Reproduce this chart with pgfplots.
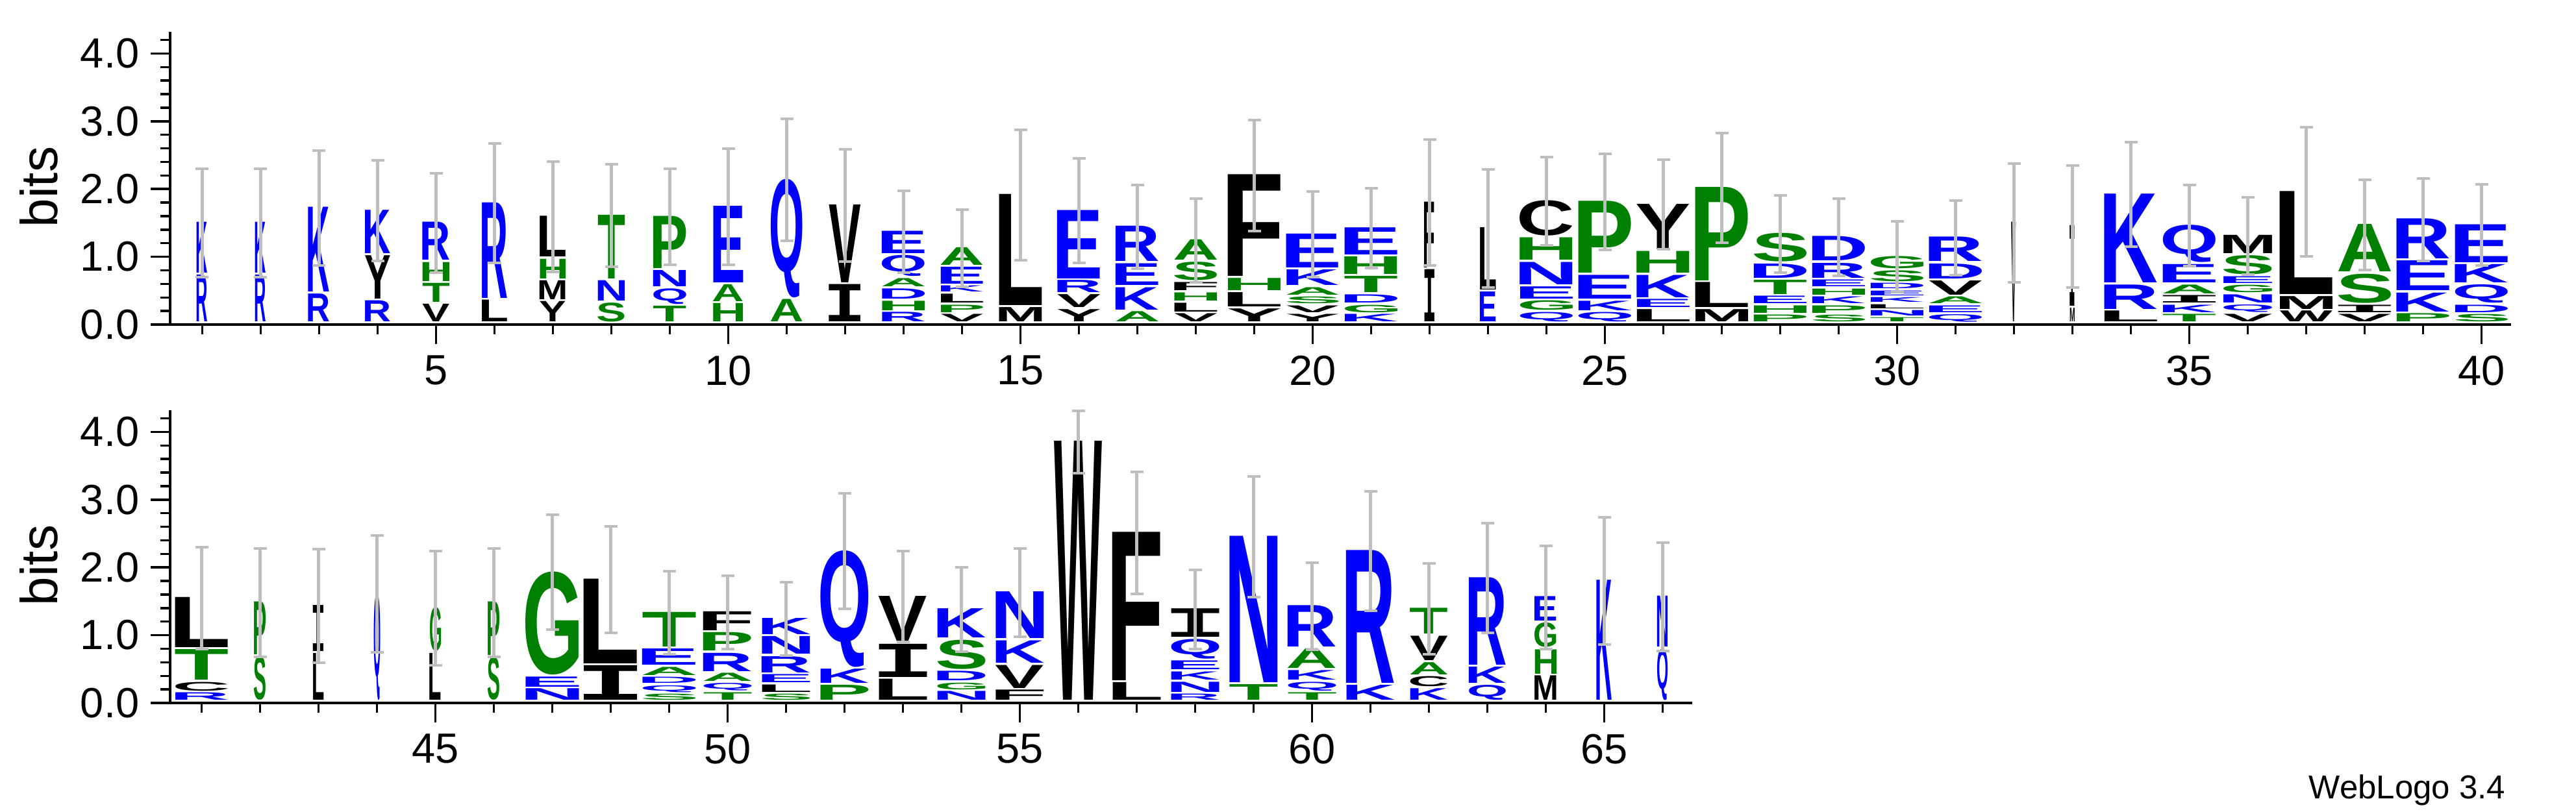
\documentclass[border=0pt]{standalone}
\usepackage{pgfplots}
\pgfplotsset{compat=1.18}
\usepackage{graphicx}
\usepackage{fontspec}
\setmainfont{Liberation Sans}
\setmonofont{Liberation Mono}
\XeTeXuseglyphmetrics=1

\definecolor{lblue}{RGB}{0,0,255}
\definecolor{lgreen}{RGB}{0,128,0}
\definecolor{errgray}{RGB}{190,190,190}
% residue colours
\colorlet{cK}{lblue}\colorlet{cR}{lblue}\colorlet{cE}{lblue}
\colorlet{cD}{lblue}\colorlet{cQ}{lblue}\colorlet{cN}{lblue}
\colorlet{cA}{lgreen}\colorlet{cT}{lgreen}\colorlet{cS}{lgreen}
\colorlet{cP}{lgreen}\colorlet{cG}{lgreen}\colorlet{cH}{lgreen}
\colorlet{cL}{black}\colorlet{cV}{black}\colorlet{cY}{black}\colorlet{cM}{black}
\colorlet{cI}{black}\colorlet{cF}{black}\colorlet{cW}{black}\colorlet{cC}{black}
\def\fI{\ttfamily}

\newlength\xu \setlength\xu{18pt}
\newlength\yu \setlength\yu{20.88pt}

% glyph trimmed to its ink
\newcommand\inkglyph[1]{\hbox{\kern-\XeTeXglyphbounds1 \XeTeXcharglyph`#1 #1\kern-\XeTeXglyphbounds3 \XeTeXcharglyph`#1 }}

% x / stack width / error / {letter/height, ...} from the bottom up
\newcommand\drawstacks[1]{%
  \foreach \x/\w/\e/\stk in {#1}{%
    \gdef\ycur{0}%
    \foreach \ltr/\h in \stk {%
      \pgfmathsetmacro\ybot{\ycur+0.03}%
      \pgfmathsetmacro\hh{\h-0.03}%
      \node[anchor=south, inner sep=0pt, text=c\ltr] at (axis cs:\x,\ybot)
        {\resizebox*{\w\xu}{\hh\yu}{\bfseries\ifcsname f\ltr\endcsname\csname f\ltr\endcsname\fi\expandafter\inkglyph\expandafter{\ltr}}};
      \pgfmathsetmacro\ynew{\ycur+\h}\xdef\ycur{\ynew}%
    }%
    \pgfmathsetmacro\elo{\ycur-\e}\pgfmathsetmacro\ehi{\ycur+\e}%
    \draw[errgray, line width=0.9pt] (axis cs:\x,\elo) -- (axis cs:\x,\ehi);
    \draw[errgray, line width=0.8pt] ([xshift=-2pt]axis cs:\x,\elo) -- ([xshift=2pt]axis cs:\x,\elo);
    \draw[errgray, line width=0.8pt] ([xshift=-2pt]axis cs:\x,\ehi) -- ([xshift=2pt]axis cs:\x,\ehi);
  }%
}

\pgfplotsset{
  logo/.style={
    x=\xu, y=\yu, ymin=0, ymax=4.32,
    anchor=south west, clip=false,
    axis x line*=bottom, axis y line*=left,
    ytick={0,1,2,3,4}, minor ytick={0.2,0.4,...,4.21},
    tick align=outside, major tick length=6pt, minor tick length=3pt,
    tick style={black, line width=0.7pt},
    axis line style={line width=0.7pt},
    ticklabel style={font=\fontsize{13}{13}\selectfont},
    yticklabel style={/pgf/number format/.cd, fixed, fixed zerofill, precision=1},
    /pgf/number format/assume math mode=true,
    ylabel={bits},
    ylabel style={font=\fontsize{16}{16}\selectfont, at={(ticklabel cs:0.47)}},
  }
}

\begin{document}
\begin{tikzpicture}
\useasboundingbox (-52.4pt,-150pt) rectangle (741pt,100pt);

\begin{axis}[logo, at={(0,0)}, xmin=0.45, xmax=40.5,
  xtick={5,10,...,40}, minor xtick={1,...,40}]
\pgfplotsextra{\drawstacks{
1/0.18/0.80/{R/0.72,K/0.78},
2/0.18/0.80/{R/0.72,K/0.78},
3/0.36/0.85/{R/0.44,K/1.28},
4/0.43/0.74/{R/0.34,Y/0.67,K/0.67},
5/0.46/0.73/{V/0.29,T/0.31,H/0.31,R/0.59},
6/0.43/0.88/{L/0.35,R/1.44},
7/0.44/0.81/{Y/0.33,M/0.31,H/0.32,L/0.63},
8/0.46/0.76/{S/0.31,N/0.33,T/0.97},
9/0.56/0.71/{T/0.26,Q/0.26,N/0.27,P/0.80},
10/0.51/0.86/{H/0.30,A/0.28,E/1.16},
11/0.54/0.90/{A/0.36,Q/1.78},
12/0.54/0.83/{I/0.58,V/1.18},
13/0.73/0.60/{R/0.17,H/0.17,D/0.18,A/0.15,Q/0.34,E/0.36},
14/0.72/0.57/{V/0.14,P/0.14,L/0.16,K/0.12,E/0.28,A/0.29},
15/0.73/0.96/{M/0.24,L/1.67},
16/0.73/0.77/{Y/0.21,V/0.22,R/0.21,E/1.04},
17/0.73/0.62/{A/0.18,K/0.36,E/0.35,R/0.55},
18/0.73/0.62/{V/0.15,L/0.16,H/0.15,F/0.15,S/0.30,A/0.33},
19/0.90/0.82/{Y/0.22,L/0.24,H/0.21,F/1.53},
20/0.89/0.63/{Y/0.14,V/0.13,S/0.13,A/0.14,K/0.26,E/0.53},
21/0.90/0.59/{K/0.14,G/0.14,D/0.15,T/0.27,H/0.29,E/0.43},
22/0.17/0.93/{I/0.80,F/1.00},
23/0.27/0.87/{E/0.47,L/0.95},
24/0.90/0.65/{Q/0.17,G/0.17,E/0.21,N/0.36,H/0.36,C/0.55},
25/0.90/0.71/{Q/0.17,K/0.17,E/0.38,P/1.09},
26/0.90/0.66/{L/0.21,E/0.15,K/0.36,H/0.35,Y/0.70},
27/0.90/0.81/{M/0.21,L/0.40,P/1.41},
28/0.90/0.57/{P/0.13,H/0.14,E/0.14,T/0.24,D/0.24,S/0.45},
29/0.90/0.57/{S/0.13,P/0.14,K/0.13,H/0.12,E/0.13,R/0.25,D/0.39},
30/0.90/0.52/{T/0.09,N/0.11,L/0.09,K/0.10,E/0.10,D/0.11,S/0.19,G/0.21},
31/0.90/0.55/{Q/0.14,E/0.13,A/0.13,V/0.24,D/0.25,R/0.39},
32/0.08/0.88/{V/1.50},
33/0.08/0.90/{M/0.23,I/1.22},
34/0.90/0.77/{L/0.19,R/0.39,K/1.34},
35/0.90/0.60/{T/0.14,K/0.14,I/0.14,A/0.16,E/0.30,Q/0.58},
36/0.83/0.57/{V/0.14,Q/0.14,N/0.15,G/0.14,E/0.13,S/0.31,M/0.30},
37/0.90/0.95/{W/0.19,M/0.22,L/1.55},
38/0.90/0.67/{V/0.14,I/0.14,S/0.46,A/0.73},
39/0.90/0.61/{P/0.15,K/0.31,E/0.47,R/0.62},
40/0.90/0.60/{S/0.14,D/0.14,Q/0.30,K/0.30,E/0.59}}}
\end{axis}

\begin{axis}[logo, at={(0,-116.6pt)}, xmin=40.46, xmax=66.5,
  xtick={45,50,...,65}, minor xtick={41,...,66}]
\pgfplotsextra{\drawstacks{
41/0.90/0.75/{R/0.14,C/0.16,T/0.48,L/0.77},
42/0.20/0.80/{S/0.67,P/0.81},
43/0.18/0.84/{L/0.72,I/0.71},
44/0.11/0.86/{Q/1.61},
45/0.19/0.84/{L/0.72,G/0.68},
46/0.20/0.80/{S/0.66,P/0.82},
47/0.91/0.85/{N/0.20,E/0.18,G/1.55},
48/0.91/0.79/{I/0.54,L/1.28},
49/0.91/0.61/{S/0.12,Q/0.13,D/0.12,A/0.15,E/0.27,T/0.54},
50/0.82/0.54/{T/0.14,Q/0.14,A/0.15,R/0.30,P/0.30,F/0.31},
51/0.82/0.54/{S/0.12,L/0.14,E/0.15,R/0.27,N/0.29,K/0.27},
52/0.82/0.85/{P/0.25,K/0.24,Q/1.75},
53/0.82/0.67/{L/0.34,I/0.52,V/0.71},
54/0.82/0.62/{N/0.16,G/0.13,D/0.17,S/0.46,K/0.46},
55/0.82/0.65/{F/0.18,V/0.37,K/0.36,N/0.72},
56/0.82/0.46/{W/3.85},
57/0.82/0.90/{L/0.29,F/2.22},
58/0.82/0.58/{R/0.12,N/0.18,K/0.15,E/0.16,Q/0.32,I/0.45},
59/0.82/0.89/{T/0.26,N/2.19},
60/0.82/0.64/{T/0.14,Q/0.16,K/0.17,A/0.32,R/0.64},
61/0.82/0.88/{K/0.25,R/1.99},
62/0.64/0.67/{K/0.20,C/0.18,A/0.21,V/0.39,T/0.41},
63/0.63/0.81/{Q/0.25,K/0.27,R/1.32},
64/0.37/0.76/{M/0.39,H/0.39,G/0.39,E/0.39},
65/0.26/0.94/{K/1.80},
66/0.18/0.80/{Q/0.79,N/0.78}}}
\end{axis}

\node[anchor=east, font=\fontsize{10.2}{12}\selectfont] at (722.8pt,-143.4pt) {WebLogo 3.4};
\end{tikzpicture}
\end{document}
